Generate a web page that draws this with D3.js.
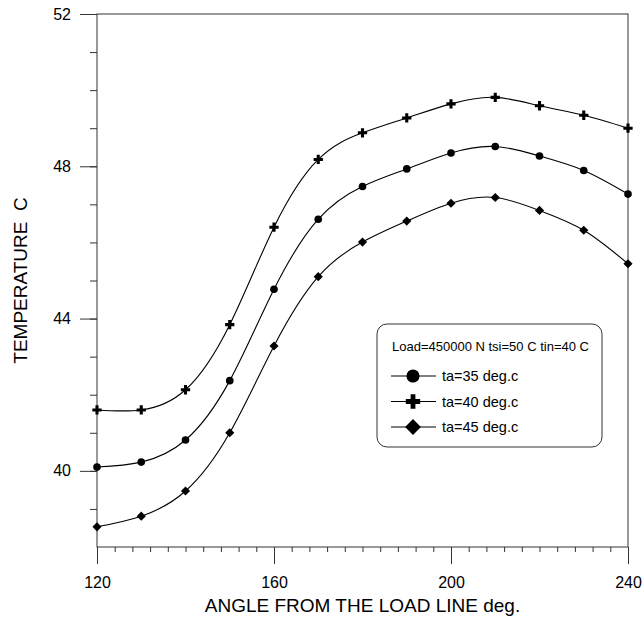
<!DOCTYPE html>
<html>
<head>
<meta charset="utf-8">
<script src="https://cdn.jsdelivr.net/npm/d3@7"></script>
<style>
  body { margin: 0; background: #fff; }
  svg text { font-family: "Liberation Sans", Arial, sans-serif; fill: #000; }
</style>
</head>
<body>
<div id="chart"></div>
<script>
// angles along the bearing (deg)
var angles = [120, 130, 140, 150, 160, 170, 180, 190, 200, 210, 220, 230, 240];

// temperatures
var ta35 = [40.10, 40.23, 40.81, 42.37, 44.77, 46.61, 47.47, 47.93, 48.35, 48.52, 48.27, 47.89, 47.27];
var ta40 = [41.60, 41.60, 42.13, 43.84, 46.40, 48.18, 48.88, 49.27, 49.64, 49.81, 49.59, 49.34, 49.00];
var ta45 = [38.53, 38.81, 39.47, 41.00, 43.28, 45.10, 46.01, 46.56, 47.03, 47.18, 46.84, 46.32, 45.44];

var seriesNames = ["ta=35 deg.c", "ta=40 deg.c", "ta=45 deg.c"];
var legendTitle = "Load=450000 N tsi=50 C tin=40 C";
var xTicks = [120, 160, 200, 240];
var yTicks = [40, 44, 48, 52];

var width = 644, height = 619;
var margin = {top: 14, right: 16, bottom: 72, left: 97};

var svg = d3.select("#chart").append("svg")
	.attr("width", width)
	.attr("height", height);

var x = d3.scaleLinear().domain([120, 240]).range([margin.left, width - margin.right]);
var y = d3.scaleLinear().domain([38, 52]).range([height - margin.bottom, margin.top]);

var axisColor = "#333";

// minor ticks
svg.append("g")
	.attr("transform", "translate(0," + y(38) + ")")
	.call(d3.axisBottom(x).tickValues(d3.range(124, 240, 4)).tickSize(5).tickFormat(""))
	.call(function(g) { g.select(".domain").remove(); });

svg.append("g")
	.attr("transform", "translate(" + x(120) + ",0)")
	.call(d3.axisLeft(y).tickValues(d3.range(39, 52, 1)).tickSize(7).tickFormat(""))
	.call(function(g) { g.select(".domain").remove(); });

// major ticks + labels
svg.append("g")
	.attr("transform", "translate(0," + y(38) + ")")
	.call(d3.axisBottom(x).tickValues(xTicks).tickSize(17).tickPadding(13).tickSizeOuter(0))
	.call(function(g) { g.select(".domain").remove(); })
	.selectAll("text").style("font-size", "16px");

svg.append("g")
	.attr("transform", "translate(" + x(120) + ",0)")
	.call(d3.axisLeft(y).tickValues(yTicks).tickSize(17).tickPadding(9).tickSizeOuter(0))
	.call(function(g) { g.select(".domain").remove(); })
	.selectAll("text").style("font-size", "16px");

svg.selectAll(".tick line").attr("stroke", axisColor);

// frame
svg.append("rect")
	.attr("x", x(120)).attr("y", y(52))
	.attr("width", x(240) - x(120)).attr("height", y(38) - y(52))
	.attr("fill", "none").attr("stroke", axisColor).attr("stroke-width", 1);

// axis titles
svg.append("text")
	.attr("x", (x(120) + x(240)) / 2)
	.attr("y", 612)
	.attr("text-anchor", "middle")
	.style("font-size", "19px")
	.text("ANGLE FROM THE LOAD LINE deg.");

svg.append("text")
	.attr("transform", "translate(27," + (y(38) + y(52)) / 2 + ") rotate(-90)")
	.attr("text-anchor", "middle")
	.style("font-size", "19px")
	.style("white-space", "pre")
	.text("TEMPERATURE  C");

// series
var shapes = [
	{type: d3.symbolCircle, size: 46, rot: 0, lsize: 135},
	{type: d3.symbolCross, size: 48, rot: 0, lsize: 115},
	{type: d3.symbolSquare, size: 42, rot: 45, lsize: 125}
];
var data = [ta35, ta40, ta45];

var line = d3.line()
	.x(function(d, i) { return x(angles[i]); })
	.y(function(d) { return y(d); })
	.curve(d3.curveNatural);

data.forEach(function(vals, s) {
	svg.append("path")
		.datum(vals)
		.attr("d", line)
		.attr("fill", "none")
		.attr("stroke", "#000")
		.attr("stroke-width", 1.1);

	svg.selectAll(".pt-" + s)
		.data(vals)
		.enter().append("path")
			.attr("class", "pt-" + s)
			.attr("transform", function(d, i) {
				return "translate(" + x(angles[i]) + "," + y(d) + ") rotate(" + shapes[s].rot + ")";
			})
			.attr("d", d3.symbol().type(shapes[s].type).size(shapes[s].size))
			.attr("fill", "#000");
});

// legend
var legend = svg.append("g").attr("transform", "translate(377,324)");
legend.append("rect")
	.attr("width", 225).attr("height", 123)
	.attr("rx", 10).attr("ry", 10)
	.attr("fill", "#fff").attr("stroke", axisColor).attr("stroke-width", 1);

legend.append("text")
	.attr("x", 15).attr("y", 26.5)
	.style("font-size", "13px")
	.text(legendTitle);

seriesNames.forEach(function(name, s) {
	var ly = 52 + s * 25.5;
	legend.append("line")
		.attr("x1", 14).attr("x2", 59)
		.attr("y1", ly).attr("y2", ly)
		.attr("stroke", "#000").attr("stroke-width", 1.1);
	legend.append("path")
		.attr("transform", "translate(36," + ly + ") rotate(" + shapes[s].rot + ")")
		.attr("d", d3.symbol().type(shapes[s].type).size(shapes[s].lsize))
		.attr("fill", "#000");
	legend.append("text")
		.attr("x", 65).attr("y", ly + 5)
		.style("font-size", "14.5px")
		.text(name);
});
</script>
</body>
</html>
